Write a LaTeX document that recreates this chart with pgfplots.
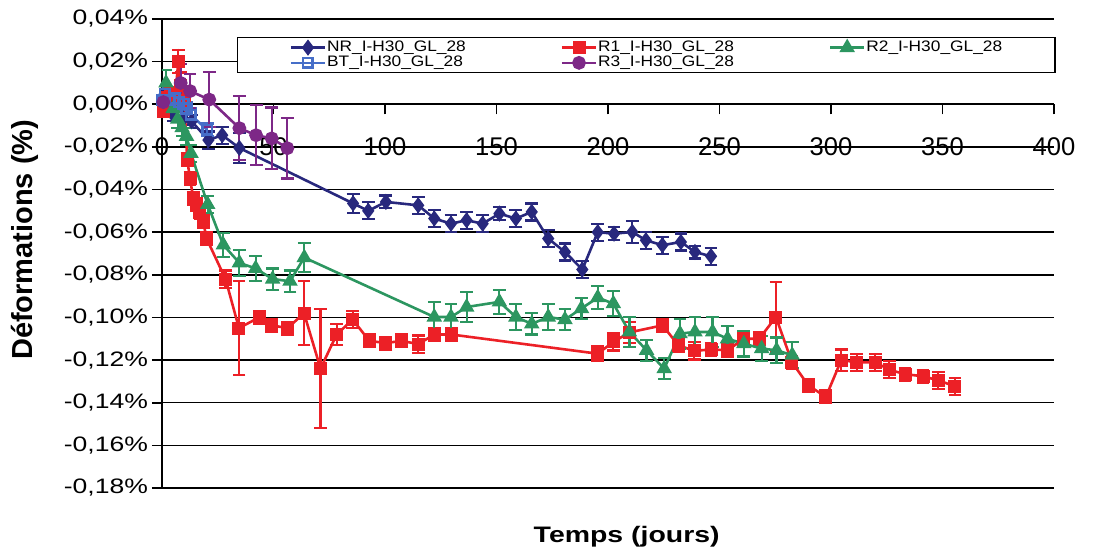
\documentclass[border=0pt]{standalone}
\usepackage{pgfplots}
\usepackage{pgfplotstable}
\pgfplotsset{compat=1.18}
\usepackage{fontspec}
\setmainfont{Liberation Sans}
\newfontfamily\widefont{Liberation Sans}[FakeStretch=1.27]
\newfontfamily\legfont{Liberation Sans}[FakeStretch=1.14]
\definecolor{cNR}{RGB}{40,40,125}
\definecolor{cR1}{RGB}{236,32,38}
\definecolor{cR2}{RGB}{44,150,96}
\definecolor{cBT}{RGB}{70,110,200}
\definecolor{cR3}{RGB}{125,40,135}

\pgfplotstableread{
t v e
0.6 0.004 0.003
5 -0.005 0.003
9.6 -0.0067 0.003
13.3 -0.008 0.003
20.8 -0.0168 0.004
27 -0.0145 0.004
34.7 -0.0205 0.007
85.7 -0.0465 0.0045
92.5 -0.050 0.004
100.4 -0.0458 0.003
114.9 -0.0474 0.004
122.1 -0.0536 0.004
129.6 -0.0560 0.004
136.6 -0.0544 0.004
143.8 -0.0560 0.004
151.3 -0.0513 0.003
158.7 -0.0536 0.004
165.8 -0.0505 0.004
173.2 -0.0630 0.004
180.7 -0.0693 0.004
188.5 -0.0775 0.004
195.4 -0.0600 0.004
202.7 -0.0607 0.003
210.9 -0.0599 0.005
217.0 -0.0638 0.004
224.4 -0.0661 0.004
232.7 -0.0646 0.004
239.0 -0.0693 0.003
246.2 -0.0713 0.004
}\dataNR

\pgfplotstableread{
t v e
0.6 -0.0036 0.002
2.5 0.003 0.002
4 0.005 0.003
5.8 0.002 0.003
7.3 0.020 0.0055
8.5 0.009 0.006
10 0.002 0.003
11.3 -0.026 0.003
12.6 -0.035 0.003
14 -0.044 0.003
15.5 -0.047 0.003
17 -0.051 0.003
18.5 -0.055 0.003
20 -0.063 0.003
28.5 -0.082 0.004
34.5 -0.105 0.022
43.9 -0.0998 0.003
49.2 -0.1037 0.003
56.3 -0.105 0.003
63.7 -0.098 0.015
71.1 -0.124 0.028
78.3 -0.108 0.005
85.5 -0.101 0.004
93 -0.111 0.003
100.4 -0.112 0.003
107.5 -0.111 0.003
114.9 -0.1125 0.004
122.1 -0.108 0.003
129.8 -0.108 0.003
195.4 -0.117 0.0035
202.4 -0.1115 0.004
209.6 -0.107 0.005
224.5 -0.1037 0.003
231.5 -0.113 0.003
238.7 -0.1157 0.004
246.2 -0.115 0.003
253.6 -0.1154 0.003
260.9 -0.110 0.003
267.8 -0.110 0.003
275.3 -0.0998 0.0164
282.5 -0.121 0.003
289.8 -0.1318 0.003
297.7 -0.1373 0.003
304.6 -0.120 0.005
311.5 -0.121 0.004
319.8 -0.121 0.004
326.1 -0.1245 0.004
333.2 -0.1266 0.003
341.3 -0.1276 0.003
348.1 -0.1295 0.004
355.6 -0.1323 0.004
}\dataRone

\pgfplotstableread{
t v e
1.8 0.010 0.006
5 -0.002 0.004
7 -0.007 0.004
9 -0.011 0.004
11 -0.015 0.004
13 -0.023 0.004
20.5 -0.047 0.004
27.5 -0.066 0.0057
34.7 -0.0744 0.006
42 -0.077 0.006
49.6 -0.082 0.005
57.4 -0.083 0.005
63.8 -0.0719 0.0068
122.1 -0.0998 0.007
129.6 -0.0998 0.006
136.6 -0.0951 0.007
151.3 -0.0927 0.0055
158.7 -0.0998 0.006
165.8 -0.103 0.005
173.2 -0.0998 0.006
180.7 -0.101 0.005
188.1 -0.0958 0.005
195.4 -0.0907 0.0055
202.4 -0.0935 0.006
209.6 -0.1068 0.007
217.3 -0.1154 0.005
225.2 -0.124 0.005
232.3 -0.1076 0.007
239.0 -0.1068 0.007
246.9 -0.1068 0.007
253.6 -0.110 0.006
260.9 -0.1123 0.006
268.9 -0.1146 0.006
275.6 -0.1154 0.006
282.6 -0.1177 0.006
}\dataRtwo

\pgfplotstableread{
t v e
0 0.002 0.002
1.3 0.005 0.003
3.5 0.002 0.003
5.8 0.0027 0.003
7.5 0.001 0.003
9.6 0.0003 0.003
11 -0.002 0.003
12.9 -0.005 0.003
20.3 -0.012 0.003
}\dataBT

\pgfplotstableread{
t v e
0.6 0.001 0.003
8.4 0.010 0.009
12.6 0.0062 0.008
21.2 0.0022 0.013
34.7 -0.0112 0.015
42.2 -0.0145 0.014
49.2 -0.0160 0.0145
56.2 -0.0206 0.0142
}\dataRthree

\begin{document}
\begin{tikzpicture}
\path[use as bounding box] (-81pt,-32pt) rectangle (479pt,244pt);
\begin{axis}[
  at={(0,0)}, anchor=south west,
  scale only axis, width=446pt, height=234.5pt,
  xmin=0, xmax=400, ymin=-0.18, ymax=0.04,
  axis x line=middle, axis y line=left,
  axis line style={-, line width=0.8pt, black},
  hide obscured x ticks=false,
  ymajorgrids, grid style={black, line width=0.7pt},
  ytick={-0.18,-0.16,-0.14,-0.12,-0.10,-0.08,-0.06,-0.04,-0.02,0,0.02,0.04},
  yticklabels={{-0,18\%},{-0,16\%},{-0,14\%},{-0,12\%},{-0,10\%},{-0,08\%},{-0,06\%},{-0,04\%},{-0,02\%},{0,00\%},{0,02\%},{0,04\%}},
  xtick={0,50,100,150,200,250,300,350,400},
  xticklabels={0,50,100,150,200,250,300,350,400},
  tick align=outside, major tick length=5pt,
  tick style={black, line width=0.8pt},
  yticklabel style={font=\widefont\fontsize{10.45}{12}\selectfont, xshift=1.5pt},
  xticklabel style={font=\fontsize{12.8}{14}\selectfont, yshift=-8pt},
  every axis x label/.style={at={(axis description cs:0.521,-0.1045)}, anchor=center, font=\widefont\bfseries\fontsize{11.2}{13}\selectfont},
  every axis y label/.style={at={(axis description cs:-0.1536,0.529)}, anchor=center, rotate=90, font=\bfseries\fontsize{14.5}{16}\selectfont},
  xlabel={Temps (jours)},
  ylabel={Déformations (\%)},
  legend columns=3,
  legend cell align=left,
  legend style={at={(axis description cs:0.0841,0.9616)}, anchor=north west, draw=black, line width=0.6pt, fill=white,
    font=\legfont\fontsize{7.6}{8}\selectfont, inner xsep=26pt, inner ysep=1.2pt,
    nodes={inner sep=0.4pt},
    /tikz/every even column/.append style={column sep=47pt}},
]
\addplot[color=cNR, line width=1.3pt, mark=diamond*, mark size=3pt, mark options={solid, fill=cNR},
  error bars/.cd, y dir=both, y explicit, error bar style={line width=1.1pt, cNR},
  error mark options={rotate=90, mark size=3.2pt, line width=1.1pt, cNR}]
  table[x=t, y=v, y error=e] {\dataNR};
\addlegendentry{NR\_I-H30\_GL\_28}
\addplot[color=cR1, line width=1.3pt, mark=square*, mark size=2.6pt, mark options={solid, fill=cR1},
  error bars/.cd, y dir=both, y explicit, error bar style={line width=1.1pt, cR1},
  error mark options={rotate=90, mark size=3.2pt, line width=1.1pt, cR1}]
  table[x=t, y=v, y error=e] {\dataRone};
\addlegendentry{R1\_I-H30\_GL\_28}
\addplot[color=cR2, line width=1.3pt, mark=triangle*, mark size=3.2pt, mark options={solid, fill=cR2},
  error bars/.cd, y dir=both, y explicit, error bar style={line width=1.1pt, cR2},
  error mark options={rotate=90, mark size=3.2pt, line width=1.1pt, cR2}]
  table[x=t, y=v, y error=e] {\dataRtwo};
\addlegendentry{R2\_I-H30\_GL\_28}
\addplot[color=cBT, line width=1.3pt, mark=square, mark size=2.4pt, mark options={solid, fill=white},
  error bars/.cd, y dir=both, y explicit, error bar style={line width=1.1pt, cBT},
  error mark options={rotate=90, mark size=3.2pt, line width=1.1pt, cBT}]
  table[x=t, y=v, y error=e] {\dataBT};
\addlegendentry{BT\_I-H30\_GL\_28}
\addplot[color=cR3, line width=1.3pt, mark=*, mark size=2.8pt, mark options={solid, fill=cR3},
  error bars/.cd, y dir=both, y explicit, error bar style={line width=1.1pt, cR3},
  error mark options={rotate=90, mark size=3.2pt, line width=1.1pt, cR3}]
  table[x=t, y=v, y error=e] {\dataRthree};
\addlegendentry{R3\_I-H30\_GL\_28}
\end{axis}
\end{tikzpicture}
\end{document}
